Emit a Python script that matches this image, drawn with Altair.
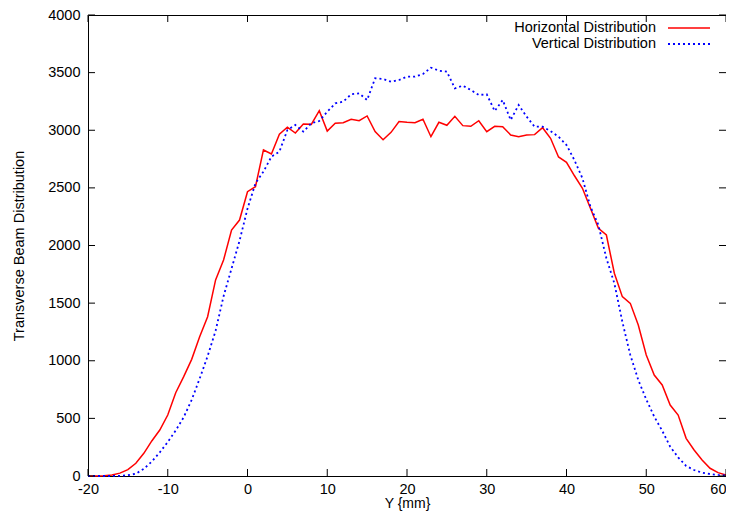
import altair as alt
import pandas as pd

y_mm = list(range(-20, 61))
horizontal = [0, 1, 3, 8, 25, 55, 110, 197, 304, 399,
              529, 723, 862, 1012, 1209, 1382, 1701, 1874, 2134, 2221,
              2467, 2510, 2829, 2794, 2965, 3026, 2976, 3054, 3051, 3170,
              2993, 3060, 3066, 3095, 3083, 3124, 2988, 2918, 2982, 3075,
              3069, 3066, 3095, 2944, 3069, 3043, 3121, 3040, 3034, 3083,
              2988, 3034, 3031, 2959, 2944, 2959, 2962, 3022, 2930, 2768,
              2722, 2605, 2496, 2323, 2149, 2091, 1759, 1556, 1498, 1310,
              1050, 876, 790, 616, 529, 327, 226, 139, 67, 29, 9]
vertical = [0, 0, 0, 0, 2, 7, 20, 62, 125, 205,
            295, 395, 510, 660, 845, 1040, 1260, 1560, 1800, 2040,
            2320, 2540, 2641, 2771, 2814, 3002, 3046, 2988, 3060, 3080,
            3161, 3233, 3248, 3312, 3320, 3262, 3451, 3445, 3421, 3436,
            3465, 3465, 3488, 3543, 3517, 3508, 3364, 3387, 3349, 3306,
            3312, 3167, 3262, 3089, 3219, 3118, 3031, 3031, 2993, 2944,
            2872, 2740, 2583, 2337, 2178, 1889, 1672, 1339, 1050, 833,
            665, 515, 393, 254, 162, 87, 52, 29, 17, 9, 5]
x_ticks = [-20, -10, 0, 10, 20, 30, 40, 50, 60]
y_ticks = [0, 500, 1000, 1500, 2000, 2500, 3000, 3500, 4000]
series_names = ["Horizontal Distribution", "Vertical Distribution"]

W, H = 638, 461
TICK = 7
FONT = "Liberation Sans"
FS = 14.5
RED = "#ff0000"
BLUE = "#0000ff"

df = pd.DataFrame({"y": y_mm, "h": horizontal, "v": vertical})
xt = pd.DataFrame({"t": x_ticks})
yt = pd.DataFrame({"t": y_ticks})

xscale = alt.Scale(domain=[-20, 60], nice=False, zero=False)
yscale = alt.Scale(domain=[0, 4000], nice=False)

plain = "'' + datum.value"
xaxis = alt.Axis(values=x_ticks, title="Y {mm}", ticks=False, domain=False, grid=False,
                 labelExpr=plain,
                 labelAlign={"condition": {"test": f"datum.value >= {x_ticks[-1]}", "value": "right"},
                             "value": "center"},
                 labelFlush=False, labelOverlap=False, labelPadding=6, titlePadding=1,
                 labelFont=FONT, titleFont=FONT, labelFontSize=FS, titleFontSize=14,
                 titleFontWeight="normal", labelColor="black", titleColor="black")
yaxis = alt.Axis(values=y_ticks, title="Transverse Beam Distribution", ticks=False,
                 labelExpr=plain,
                 domain=False, grid=False, labelPadding=8, titlePadding=21,
                 labelFont=FONT, titleFont=FONT, labelFontSize=FS, titleFontSize=FS,
                 titleFontWeight="normal", labelColor="black", titleColor="black")

red_line = alt.Chart(df).mark_line(color=RED, strokeWidth=1.5).encode(
    x=alt.X("y:Q", scale=xscale, axis=xaxis),
    y=alt.Y("h:Q", scale=yscale, axis=yaxis),
)
blue_line = alt.Chart(df).mark_line(color=BLUE, strokeWidth=1.8, strokeDash=[2, 3]).encode(
    x=alt.X("y:Q", scale=xscale),
    y=alt.Y("v:Q", scale=yscale),
)

tick_style = dict(color="black", strokeWidth=1)
bottom_ticks = alt.Chart(xt).mark_rule(**tick_style).encode(
    x=alt.X("t:Q", scale=xscale), y=alt.value(H), y2=alt.value(H - TICK))
top_ticks = alt.Chart(xt).mark_rule(**tick_style).encode(
    x=alt.X("t:Q", scale=xscale), y=alt.value(0), y2=alt.value(TICK))
left_ticks = alt.Chart(yt).mark_rule(**tick_style).encode(
    y=alt.Y("t:Q", scale=yscale), x=alt.value(0), x2=alt.value(TICK))
right_ticks = alt.Chart(yt).mark_rule(**tick_style).encode(
    y=alt.Y("t:Q", scale=yscale), x=alt.value(W), x2=alt.value(W - TICK))

leg_h = pd.DataFrame({"name": [series_names[0]]})
leg_v = pd.DataFrame({"name": [series_names[1]]})
leg_text_h = alt.Chart(leg_h).mark_text(align="right", baseline="middle", font=FONT,
                                        fontSize=FS, color="black").encode(
    x=alt.value(568), y=alt.value(13), text="name:N")
leg_text_v = alt.Chart(leg_v).mark_text(align="right", baseline="middle", font=FONT,
                                        fontSize=FS, color="black").encode(
    x=alt.value(568), y=alt.value(29), text="name:N")
leg_line_h = alt.Chart(leg_h).mark_rule(color=RED, strokeWidth=1.5).encode(
    x=alt.value(580), x2=alt.value(622), y=alt.value(13))
leg_line_v = alt.Chart(leg_v).mark_rule(color=BLUE, strokeWidth=1.8, strokeDash=[2, 3]).encode(
    x=alt.value(580), x2=alt.value(622), y=alt.value(29))

chart = alt.layer(
    red_line, blue_line,
    bottom_ticks, top_ticks, left_ticks, right_ticks,
    leg_text_h, leg_line_h, leg_text_v, leg_line_v,
).properties(
    width=W, height=H,
    autosize=alt.AutoSizeParams(type="none"),
    padding={"left": 80, "top": 7, "right": 0, "bottom": 37},
    background="white",
).configure_view(stroke="black", strokeWidth=1)

chart.save("out.html", embed_options={"renderer": "svg", "actions": False})
